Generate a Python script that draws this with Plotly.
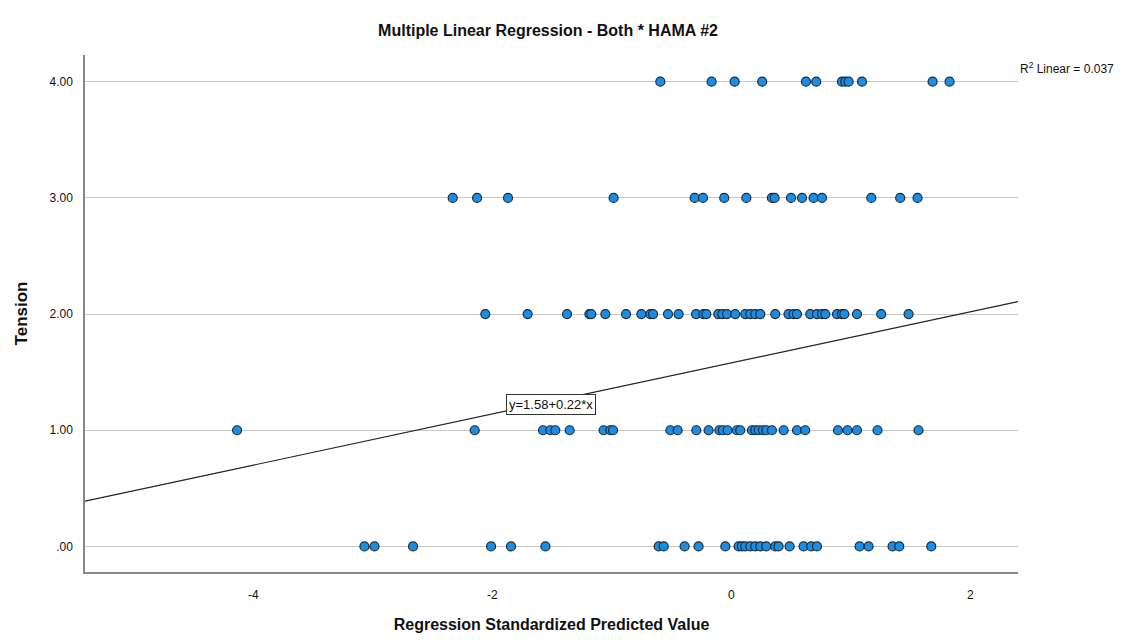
import numpy as np
import plotly.graph_objects as go

# Standardized predicted values grouped by Tension score
pred_t4 = [-0.594, -0.165, 0.028, 0.259, 0.625, 0.711, 0.926, 0.954, 0.982, 1.094, 1.685, 1.827]
pred_t3 = [-2.332, -2.128, -1.869, -0.985, -0.307, -0.237, -0.059, 0.126, 0.340, 0.362,
           0.500, 0.592, 0.689, 0.759, 1.172, 1.414, 1.559]
pred_t2 = [-2.059, -1.705, -1.375, -1.188, -1.172, -1.054, -0.881, -0.753, -0.678, -0.655,
           -0.530, -0.441, -0.295, -0.234, -0.209, -0.109, -0.075, -0.036, 0.033, 0.117,
           0.159, 0.201, 0.243, 0.368, 0.479, 0.521, 0.550, 0.661, 0.717, 0.759, 0.787,
           0.885, 0.926, 0.946, 1.052, 1.255, 1.484]
pred_t1 = [-4.137, -2.148, -1.576, -1.515, -1.473, -1.353, -1.069, -1.013, -0.990,
           -0.510, -0.449, -0.293, -0.190, -0.100, -0.070, -0.031, 0.047, 0.075, 0.173,
           0.201, 0.229, 0.265, 0.293, 0.340, 0.438, 0.550, 0.619, 0.893, 0.973, 1.052,
           1.224, 1.567]
pred_t0 = [-3.071, -2.987, -2.664, -2.011, -1.844, -1.556, -0.608, -0.566, -0.391, -0.274,
           -0.050, 0.061, 0.089, 0.117, 0.159, 0.201, 0.243, 0.293, 0.368, 0.396, 0.488,
           0.605, 0.669, 0.717, 1.074, 1.149, 1.350, 1.406, 1.674]

tension_levels = [4, 3, 2, 1, 0]
groups = [pred_t4, pred_t3, pred_t2, pred_t1, pred_t0]

intercept = 1.58
slope = 0.22
r_squared = 0.037

x_range = [-5.41, 2.40]
y_range = [-0.22, 4.23]
x_ticks = [-4, -2, 0, 2]
y_ticks = [0, 1, 2, 3, 4]
y_tick_text = [".00", "1.00", "2.00", "3.00", "4.00"]

xs, ys = [], []
for lvl, vals in zip(tension_levels, groups):
    xs.extend(vals)
    ys.extend([lvl] * len(vals))

fig = go.Figure()

# Fit line across the full axis range
fit_x = np.array(x_range)
fit_y = intercept + slope * fit_x
fig.add_trace(go.Scatter(
    x=fit_x, y=fit_y, mode="lines",
    line=dict(color="#222222", width=1.2),
    hoverinfo="skip", showlegend=False,
))

fig.add_trace(go.Scatter(
    x=xs, y=ys, mode="markers",
    marker=dict(size=9, color="#1a8ee6", line=dict(color="#1b2a38", width=1.2)),
    showlegend=False,
))

font_family = "Liberation Sans, Arial, sans-serif"

fig.add_annotation(
    x=-1.506, y=1.225, xref="x", yref="y",
    text=f"y={intercept:.2f}+{slope:.2f}*x", showarrow=False,
    font=dict(family=font_family, size=13, color="#111111"),
    bgcolor="white", bordercolor="#333333", borderwidth=1, borderpad=2,
)

fig.add_annotation(
    x=1.0, y=4.0, xref="paper", yref="y",
    text=f"R<sup>2</sup> Linear = {r_squared:.3f}", showarrow=False,
    xanchor="left", yanchor="middle", xshift=0, yshift=14,
    font=dict(family=font_family, size=12, color="#111111"),
)

fig.update_layout(
    width=1137, height=643,
    paper_bgcolor="white", plot_bgcolor="white",
    margin=dict(l=85, r=119, t=55, b=68),
    font=dict(family=font_family, color="#111111"),
    title=dict(
        text="<b>Multiple Linear Regression - Both * HAMA #2</b>",
        x=0.482, xanchor="center", y=0.953, yanchor="middle",
        font=dict(size=16, color="#111111"),
    ),
    xaxis=dict(
        range=x_range, tickvals=x_ticks, ticktext=[str(t) for t in x_ticks],
        showgrid=False, zeroline=False,
        showline=True, linecolor="#888888", linewidth=1.5,
        ticks="", tickfont=dict(size=12), ticklabelstandoff=11,
        title=dict(text="<b>Regression Standardized Predicted Value</b>",
                   font=dict(size=16), standoff=18),
    ),
    yaxis=dict(
        range=y_range, tickvals=y_ticks, ticktext=y_tick_text,
        showgrid=True, gridcolor="#c8c8c8", gridwidth=1.2,
        zeroline=False,
        showline=True, linecolor="#888888", linewidth=1.5,
        ticks="", tickfont=dict(size=12), ticklabelstandoff=8,
        title=dict(text="<b>Tension</b>", font=dict(size=17), standoff=18),
    ),
)

fig.write_html("out.html")
